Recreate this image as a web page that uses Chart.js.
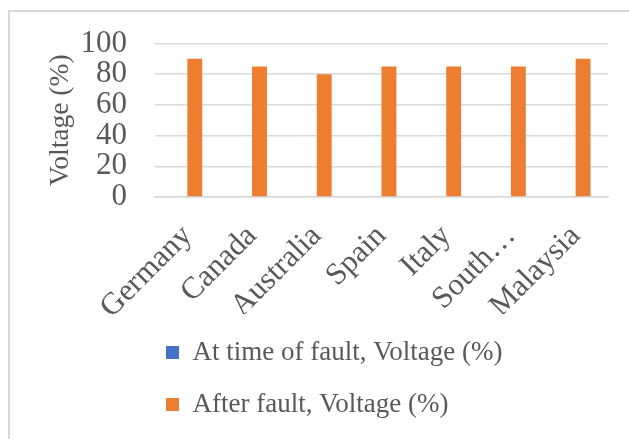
<!DOCTYPE html>
<html>
<head>
<meta charset="utf-8">
<script src="https://cdn.jsdelivr.net/npm/chart.js@4"></script>
<style>
  html, body { margin: 0; padding: 0; background: #fff; }
  body { width: 629px; height: 439px; position: relative; overflow: hidden; }
  #frame { position: absolute; left: 8px; top: 10px; width: 700px; height: 500px;
           border-top: 2px solid #d9d9d9; border-left: 2px solid #d9d9d9; }
  #wrap { position: absolute; left: 0; top: 0; width: 629px; height: 439px; }
</style>
</head>
<body>
<div id="frame"></div>
<div id="wrap"><canvas id="chart"></canvas></div>
<script>
// --- data ---
const countries = ['Germany', 'Canada', 'Australia', 'Spain', 'Italy', 'South…', 'Malaysia'];
const atFault = [0, 0, 0, 0, 0, 0, 0];
const afterFault = [90, 85, 80, 85, 85, 85, 90];
const seriesNames = ['At time of fault, Voltage (%)', 'After fault, Voltage (%)'];
const yMin = 0, yMax = 100, yStep = 20;

const textGrey = '#595959';
const gridGrey = '#d9d9d9';
Chart.defaults.font.family = "'Liberation Serif', 'Times New Roman', serif";
Chart.defaults.font.size = 27.5;
Chart.defaults.color = textGrey;

// keep both legend rows starting at the same x (Excel style)
const legendRows = {
    id: 'legendRows',
    beforeDraw(chart) {
        const lg = chart.legend;
        if (!lg || !lg.lineWidths) return;
        const startX = 166;
        const pad = lg.options.labels.padding;
        lg.lineWidths = lg.lineWidths.map(() => lg.left + pad + lg.right - 2 * startX);
    }
};

new Chart(document.getElementById('chart'), {
    type: 'bar',
    data: {
        labels: countries,
        datasets: [
            { label: seriesNames[0], data: atFault, backgroundColor: '#4472C4', borderWidth: 0 },
            { label: seriesNames[1], data: afterFault, backgroundColor: '#ED7D31', borderWidth: 0 }
        ]
    },
    options: {
        responsive: true,
        maintainAspectRatio: false,
        animation: false,
        layout: { padding: { left: 40, right: 21, top: 41, bottom: 11 } },
        datasets: { bar: { categoryPercentage: 0.46, barPercentage: 1 } },
        plugins: {
            legend: {
                position: 'bottom',
                labels: { boxWidth: 13, boxHeight: 13, padding: 25, color: textGrey, font: { size: 27 } }
            },
            tooltip: { enabled: false }
        },
        scales: {
            x: {
                grid: { display: false, drawTicks: false },
                border: { display: true, color: gridGrey, width: 1.5 },
                ticks: { minRotation: 45, maxRotation: 45, autoSkip: false, padding: 21, color: textGrey, font: { size: 31 } },
                afterFit: (s) => { s.height = 117; }
            },
            y: {
                min: yMin, max: yMax,
                grid: { color: gridGrey, lineWidth: 1.5, drawTicks: false },
                border: { display: false },
                ticks: { stepSize: yStep, autoSkip: false, padding: 28, color: textGrey, font: { size: 31, lineHeight: 1 } },
                title: { display: true, text: 'Voltage (%)', color: textGrey, padding: { top: 4, bottom: 0 } },
                afterFit: (s) => { s.width = 115; }
            }
        }
    },
    plugins: [legendRows]
});
</script>
</body>
</html>
